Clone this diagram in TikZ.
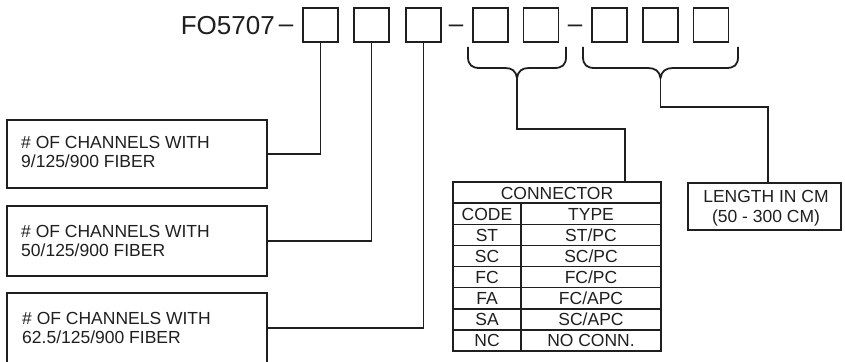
\documentclass[tikz,border=0pt]{standalone}
\usepackage{fontspec}
\setmainfont{Liberation Sans}
\begin{document}
\begin{tikzpicture}[x=1pt,y=-1pt,
  ink/.style={draw=black!88, line width=1.9pt},
  digit/.style={ink, minimum width=35pt, minimum height=34pt, inner sep=0pt},
  chbox/.style={ink, minimum width=260pt, inner sep=0pt},
  txt/.style={font=\fontsize{17.5}{19.5}\selectfont, inner sep=0pt, text=black!88},
  big/.style={font=\fontsize{26}{28}\selectfont, inner sep=0pt, text=black!88},
  wire/.style={draw=black!88, line width=1.8pt}
]
\useasboundingbox (0,0) rectangle (845,361);
% title and digit boxes
\node[big, anchor=base east] (title) at (275,35) {FO5707};
\node[big, anchor=base] (d0) at (286,32.5) {–};
\node[digit] (b1) at (320.5,25) {};
\node[digit] (b2) at (371.5,25) {};
\node[digit] (b3) at (423.5,25) {};
\node[big, anchor=base] (d1) at (456,32.5) {–};
\node[digit] (b4) at (490.5,25) {};
\node[digit] (b5) at (541,25) {};
\node[big, anchor=base] (d2) at (575,32.5) {–};
\node[digit] (b6) at (609.5,25) {};
\node[digit] (b7) at (660.5,25) {};
\node[digit] (b8) at (711,25) {};
% braces
\draw[wire] (468,47) -- (468,57) .. controls (468,65) and (472,68) .. (480,68) -- (505,68)
  .. controls (512,68) and (516,71) .. (517,78) .. controls (518,71) and (522,68) .. (529,68)
  -- (554,68) .. controls (562,68) and (566,65) .. (566,57) -- (566,47);
\coordinate (t1) at (517,78);
\draw[wire] (583,47) -- (583,57) .. controls (583,65) and (587,68) .. (595,68) -- (648,68)
  .. controls (655,68) and (659.5,71) .. (660.5,78) .. controls (661.5,71) and (666,68) .. (673,68)
  -- (726,68) .. controls (734,68) and (738,65) .. (738,57) -- (738,47);
\coordinate (t2) at (660.5,78);
% channel boxes
\node[chbox, minimum height=68pt] (chA) at (137,154) {};
\node[chbox, minimum height=70pt] (chB) at (137,241) {};
\node[chbox, minimum height=70pt] (chC) at (137,328) {};
\node[txt, anchor=base west, align=left] (tA) at (21,167.5) {\# OF CHANNELS WITH\\9/125/900 FIBER};
\node[txt, anchor=base west, align=left] (tB) at (21,256.5) {\# OF CHANNELS WITH\\50/125/900 FIBER};
\node[txt, anchor=base west, align=left] (tC) at (22,343.5) {\# OF CHANNELS WITH\\62.5/125/900 FIBER};
\draw[wire] (b1.south) |- (chA.east);
\draw[wire] (b2.south) |- (chB.east);
\draw[wire] (b3.south) |- (chC.east);
% connector table
\node[ink, minimum width=208pt, minimum height=169pt, inner sep=0pt] (conn) at (557,266.5) {};
\foreach \i in {1,...,7} {
  \draw[ink, line width=1.5pt] (453,182+21.125*\i) -- (661,182+21.125*\i);
}
\draw[ink, line width=1.5pt] (521,203.125) -- (521,351);
\node[txt, anchor=base] (h0) at (557,199) {CONNECTOR};
\foreach \c/\t [count=\k from 1] in {CODE/TYPE, ST/ST\slash PC, SC/SC\slash PC, FC/FC\slash PC, FA/FC\slash APC, SA/SC\slash APC, NC/NO CONN.} {
  \node[txt, anchor=base] (c\k) at (487,199+21.125*\k) {\c};
  \node[txt, anchor=base] (y\k) at (591,199+21.125*\k) {\t};
}
\coordinate (k1) at (625,129);
\draw[wire] (t1) |- (k1) -- (k1 |- conn.north);
% length box
\node[ink, minimum width=153pt, minimum height=47pt, inner sep=0pt] (len) at (764.5,206.5) {};
\node[txt, anchor=base] (l1) at (766,202) {LENGTH IN CM};
\node[txt, anchor=base] (l2) at (766,222) {(50 - 300 CM)};
\coordinate (k2) at (768,107);
\draw[wire] (t2) |- (k2) -- (k2 |- len.north);
\end{tikzpicture}
\end{document}
